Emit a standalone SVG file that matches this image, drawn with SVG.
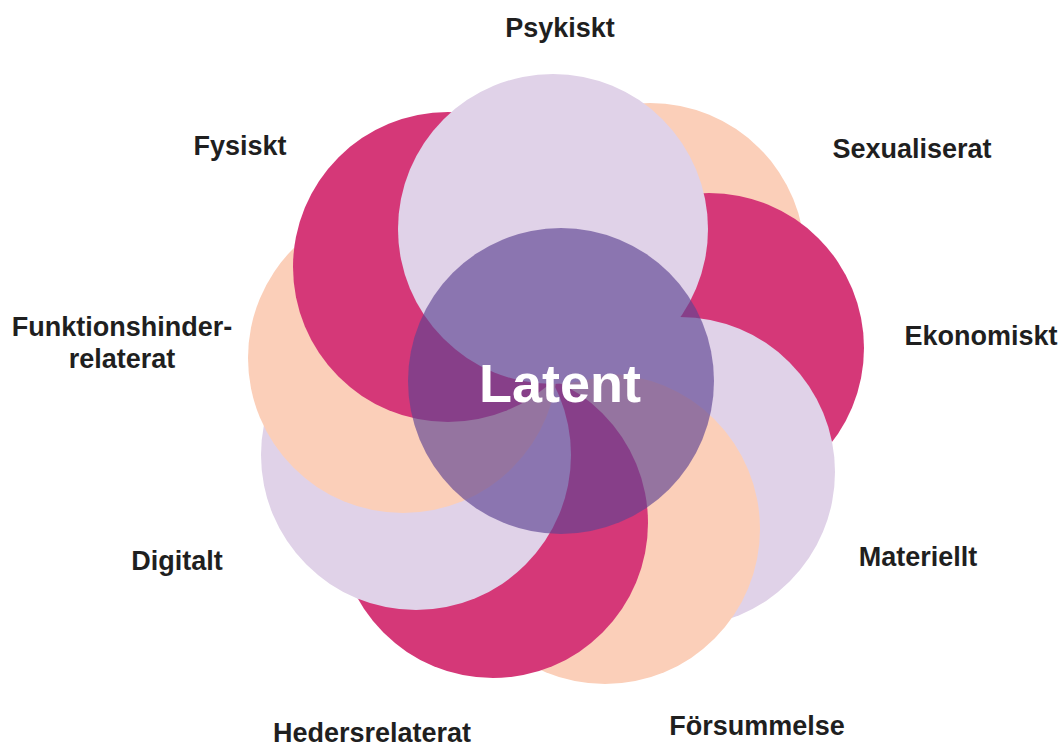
<svg xmlns="http://www.w3.org/2000/svg" width="1059" height="746" viewBox="0 0 1059 746">
<style>
.lav{fill:#e0d2e8}
.pea{fill:#fbcfb9}
.mag{fill:#d53878}
.lbl{font-family:"Liberation Sans",Arial,sans-serif;font-weight:bold;font-size:27px;fill:#1f1f1f}
.ctr{font-family:"Liberation Sans",Arial,sans-serif;font-weight:bold;font-size:54px;fill:#ffffff}
</style>
<rect width="1059" height="746" fill="#ffffff"/>
<g id="petals">
<g id="sexualiserat"><circle class="pea" cx="650" cy="258" r="155"/></g>
<g id="ekonomiskt"><circle class="mag" cx="709" cy="348" r="155"/></g>
<g id="materiellt"><circle class="lav" cx="680" cy="472" r="155"/></g>
<g id="forsummelse"><circle class="pea" cx="605" cy="529" r="155"/></g>
<g id="hedersrelaterat"><circle class="mag" cx="493" cy="523" r="155"/></g>
<g id="digitalt"><circle class="lav" cx="416" cy="455" r="155"/></g>
<g id="funktionshinder"><circle class="pea" cx="403" cy="358" r="155"/></g>
<g id="fysiskt"><circle class="mag" cx="448" cy="267" r="155"/></g>
<g id="psykiskt"><circle class="lav" cx="553" cy="229" r="155"/></g>
</g>
<g id="latent">
<circle cx="561" cy="381" r="153" fill="#5d4392" fill-opacity="0.65"/>
<text class="ctr" x="560" y="402" text-anchor="middle">Latent</text>
</g>
<g id="labels">
<text class="lbl" x="560" y="37" text-anchor="middle">Psykiskt</text>
<text class="lbl" x="240" y="155" text-anchor="middle">Fysiskt</text>
<text class="lbl" x="912" y="158" text-anchor="middle">Sexualiserat</text>
<text class="lbl" x="981" y="345" text-anchor="middle">Ekonomiskt</text>
<text class="lbl" x="122" y="336" text-anchor="middle">Funktionshinder-</text>
<text class="lbl" x="122" y="368" text-anchor="middle">relaterat</text>
<text class="lbl" x="177" y="570" text-anchor="middle">Digitalt</text>
<text class="lbl" x="918" y="566" text-anchor="middle">Materiellt</text>
<text class="lbl" x="372" y="742" text-anchor="middle">Hedersrelaterat</text>
<text class="lbl" x="757" y="735" text-anchor="middle">Försummelse</text>
</g>
<g id="connectors"></g>
</svg>
